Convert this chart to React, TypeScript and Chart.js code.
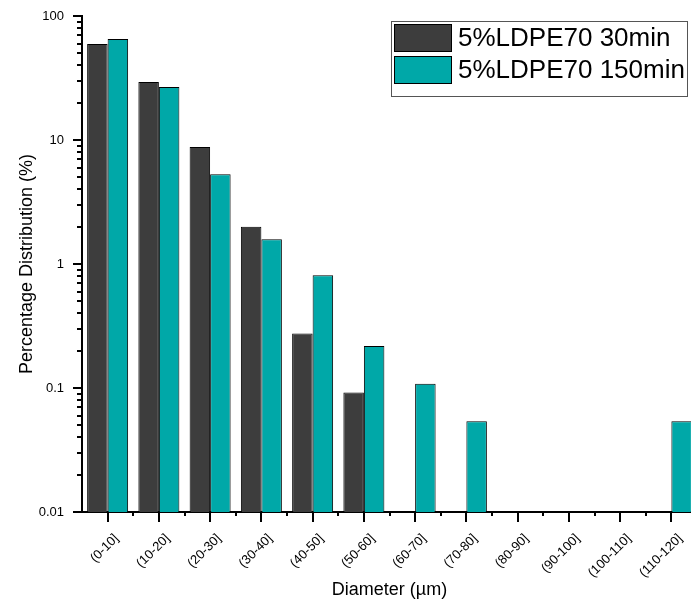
import React, { useEffect, useRef } from "react";
import { Chart, registerables } from "chart.js";

Chart.register(...registerables);

// Diameter classes (µm)
const CATEGORIES = [
  "(0-10]",
  "(10-20]",
  "(20-30]",
  "(30-40]",
  "(40-50]",
  "(50-60]",
  "(60-70]",
  "(70-80]",
  "(80-90]",
  "(90-100]",
  "(100-110]",
  "(110-120]",
];

// Percentage distribution per class
const SERIES_30MIN = [59.5, 29.4, 8.8, 2.0, 0.275, 0.092, null, null, null, null, null, null];
const SERIES_150MIN = [65.3, 26.8, 5.3, 1.58, 0.81, 0.218, 0.108, 0.054, null, null, null, 0.054];

const LABEL_30MIN = "5%LDPE70 30min";
const LABEL_150MIN = "5%LDPE70 150min";

const Y_TICK_VALUES = [0.01, 0.1, 1, 10, 100];
const Y_TICK_LABELS = ["0.01", "0.1", "1", "10", "100"];

const COLOR_DARK = "#3d3d3d";
const COLOR_TEAL = "#00a8a8";
const FONT_FAMILY = 'Arial, "Liberation Sans", Helvetica, sans-serif';

// Outward tick marks: long at decades / class centres, short for minor steps.
const tickMarks = {
  id: "tickMarks",
  afterDraw(chart: any) {
    const { ctx, chartArea, scales } = chart;
    const xs = scales.x;
    const ys = scales.y;
    ctx.save();
    ctx.strokeStyle = "#000";
    ctx.lineWidth = 2;
    const seg = (x1: number, y1: number, x2: number, y2: number) => {
      ctx.beginPath();
      ctx.moveTo(x1, y1);
      ctx.lineTo(x2, y2);
      ctx.stroke();
    };
    const left = chartArea.left;
    const bottom = chartArea.bottom;
    for (let e = Math.round(Math.log10(ys.min)); e <= Math.round(Math.log10(ys.max)); e++) {
      for (let m = 1; m <= 9; m++) {
        const v = m * Math.pow(10, e);
        if (v > ys.max * 1.0001) break;
        const py = Math.round(ys.getPixelForValue(v));
        const len = m === 1 ? 9 : 5;
        seg(left - len, py, left, py);
      }
    }
    const n = chart.data.labels.length;
    for (let i = 0; i < n; i++) {
      const px = xs.getPixelForValue(i);
      const half = (xs.getPixelForValue(1) - xs.getPixelForValue(0)) / 2;
      seg(Math.round(px), bottom, Math.round(px), bottom + 10);
      seg(Math.round(px + half), bottom, Math.round(px + half), bottom + 4);
    }
    ctx.restore();
  },
};

// Boxed legend in the upper right corner.
const boxLegend = {
  id: "boxLegend",
  afterDraw(chart: any) {
    const { ctx } = chart;
    const datasets = chart.data.datasets;
    const x0 = 391;
    const y0 = 21;
    const w = 296;
    const h = 75;
    ctx.save();
    ctx.fillStyle = "#fff";
    ctx.fillRect(x0, y0, w, h);
    ctx.strokeStyle = "#555";
    ctx.lineWidth = 1;
    ctx.strokeRect(x0 + 0.5, y0 + 0.5, w, h);
    ctx.font = `26px ${FONT_FAMILY}`;
    ctx.textBaseline = "middle";
    ctx.textAlign = "left";
    datasets.forEach((ds: any, i: number) => {
      const sy = y0 + 3 + i * 32;
      ctx.fillStyle = ds.backgroundColor;
      ctx.fillRect(x0 + 3, sy, 58, 28);
      ctx.strokeStyle = "#000";
      ctx.lineWidth = 1;
      ctx.strokeRect(x0 + 3.5, sy + 0.5, 57, 27);
      ctx.fillStyle = "#000";
      ctx.fillText(ds.label, x0 + 67, sy + 14.5);
    });
    ctx.restore();
  },
};

export default function App() {
  const canvasRef = useRef<HTMLCanvasElement | null>(null);

  useEffect(() => {
    const canvas = canvasRef.current;
    if (!canvas) return;
    const chart = new Chart(canvas, {
      type: "bar",
      data: {
        labels: CATEGORIES,
        datasets: [
          {
            label: LABEL_30MIN,
            data: SERIES_30MIN,
            backgroundColor: COLOR_DARK,
            borderColor: "#000",
            borderWidth: 1,
          },
          {
            label: LABEL_150MIN,
            data: SERIES_150MIN,
            backgroundColor: COLOR_TEAL,
            borderColor: "#000",
            borderWidth: 1,
          },
        ],
      },
      options: {
        responsive: false,
        animation: false,
        devicePixelRatio: 1,
        layout: { padding: { top: 16, right: 23, left: 0, bottom: 0 } },
        datasets: {
          bar: { categoryPercentage: 0.8, barPercentage: 1.0, grouped: true },
        },
        plugins: {
          legend: { display: false },
          tooltip: { enabled: false },
        },
        scales: {
          x: {
            type: "category",
            offset: true,
            grid: { display: false, drawTicks: false },
            border: { display: true, color: "#000", width: 2 },
            ticks: {
              autoSkip: false,
              minRotation: 45,
              maxRotation: 45,
              labelOffset: 9,
              padding: 19,
              color: "#000",
              font: { family: FONT_FAMILY, size: 13 },
            },
            title: {
              display: true,
              text: "Diameter (µm)",
              color: "#000",
              font: { family: FONT_FAMILY, size: 18 },
              padding: { top: 0, bottom: 4 },
            },
            afterFit: (scale: any) => {
              scale.height = 93;
            },
          },
          y: {
            type: "logarithmic",
            min: 0.01,
            max: 100,
            grid: { display: false, drawTicks: false },
            border: { display: true, color: "#000", width: 2 },
            afterBuildTicks: (scale: any) => {
              scale.ticks = Y_TICK_VALUES.map((v) => ({ value: v }));
            },
            ticks: {
              autoSkip: false,
              padding: 18,
              color: "#000",
              font: { family: FONT_FAMILY, size: 13 },
              callback: (_v: any, i: number) => Y_TICK_LABELS[i],
            },
            title: {
              display: true,
              text: "Percentage Distribution (%)",
              color: "#000",
              font: { family: FONT_FAMILY, size: 18 },
              padding: { top: 16, bottom: 0 },
            },
            afterFit: (scale: any) => {
              scale.width = 82;
              scale.paddingTop = 0;
              scale.paddingBottom = 0;
            },
          },
        },
      },
      plugins: [tickMarks, boxLegend],
    });
    return () => chart.destroy();
  }, []);

  return (
    <div
      style={{
        position: "absolute",
        left: 0,
        top: 0,
        width: 691,
        height: 605,
        overflow: "hidden",
        background: "#fff",
      }}
    >
      <canvas ref={canvasRef} width={720} height={605} style={{ width: 720, height: 605 }} />
    </div>
  );
}
